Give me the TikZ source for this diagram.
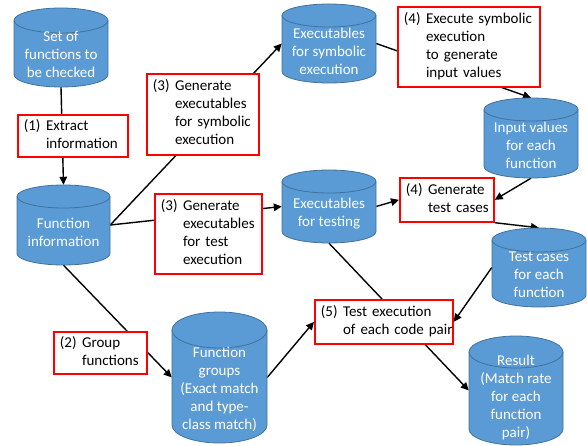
\documentclass[tikz,border=0pt]{standalone}
\usepackage{fontspec}
\setmainfont{Carlito}
\usetikzlibrary{arrows.meta}
\pgfdeclarelayer{bg}
\pgfsetlayers{bg,main}
\definecolor{cylblue}{HTML}{5B9BD5}
\definecolor{cylborder}{HTML}{41719C}
\definecolor{boxred}{HTML}{FF0000}
\tikzset{
  cylbody/.style={fill=cylblue, draw=cylborder, line width=0.8pt},
  cylline/.style={draw=cylborder, line width=0.8pt},
  cylbox/.style={draw=none, rectangle, inner sep=0pt},
  cyltext/.style={text=white, align=center, inner sep=0pt, font=\fontsize{15}{18}\selectfont},
  stepbox/.style={draw=boxred, line width=1.7pt, fill=white, rectangle, anchor=north west,
    inner xsep=6pt, inner ysep=0pt, align=left, font=\fontsize{15}{18}\selectfont},
  conn/.style={draw=black, line width=1.4pt, -{Triangle[length=8pt,width=7.5pt]}},
}
% #1 name, #2 left, #3 top, #4 right, #5 bottom, #6 cap radius, #7 text centre y, #8 text
\newcommand\cylnode[8]{%
  \pgfmathsetmacro\cxa{(#2+#4)/2}%
  \pgfmathsetmacro\rxa{(#4-#2)/2}%
  \pgfmathsetmacro\cya{(#3+#5)/2}%
  \pgfmathsetmacro\wa{#4-#2}%
  \pgfmathsetmacro\ha{#5-#3}%
  \path[cylbody] (#2,#3+#6) -- (#2,#5-#6)
     arc[start angle=180,end angle=360,x radius=\rxa pt,y radius=#6pt]
     -- (#4,#3+#6)
     arc[start angle=0,end angle=180,x radius=\rxa pt,y radius=#6pt] -- cycle;
  \draw[cylline] (#2,#3+#6) arc[start angle=180,end angle=360,x radius=\rxa pt,y radius=#6pt];
  \node[cylbox, minimum width=\wa pt, minimum height=\ha pt] (#1) at (\cxa,\cya) {};
  \node[cyltext] (#1-t) at (\cxa,#7) {#8};
}
\newcommand\steptext[2]{\begin{tabular}{@{}l@{\hspace{5.5pt}}l@{}}#1&#2\end{tabular}}
\begin{document}
\begin{tikzpicture}[x=1pt,y=-1pt]
\useasboundingbox (0,0) rectangle (587,446);

% cylinders
\cylnode{cset}{14}{8}{108}{87}{12.5}{54}{Set of\\functions to\\be checked}
\cylnode{cfi}{17}{185}{110}{265}{11.5}{232}{Function\\information}
\cylnode{ces}{282}{4}{376}{83}{11.5}{51}{Executables\\for symbolic\\execution}
\cylnode{civ}{484}{98}{578}{178}{11.5}{145}{Input values\\for each\\function}
\cylnode{cet}{282}{170}{376}{243}{11.5}{214}{Executables\\for testing}
\cylnode{ctc}{492}{228}{586}{307}{12}{275}{Test cases\\for each\\function}
\cylnode{cfg}{172}{312}{267}{443}{18}{389}{Function\\groups\\(Exact match\\and type-\\class match)}
\cylnode{cres}{469}{336}{563}{445}{16}{398}{Result\\(Match rate\\for each\\function\\pair)}

% step boxes
\node[stepbox, minimum width=110pt, minimum height=42pt, text width=98pt] (b1) at (17,114)
  {\steptext{(1)}{Extract\\&information}};
\node[stepbox, minimum width=112pt, minimum height=81pt, text width=100pt] (b3s) at (146,73)
  {\steptext{(3)}{Generate\\&executables\\&for symbolic\\&execution}};
\node[stepbox, minimum width=142pt, minimum height=80pt, text width=130pt] (b4s) at (397,6)
  {\steptext{(4)}{Execute symbolic\\&execution\\&to generate\\&input values}};
\node[stepbox, minimum width=107pt, minimum height=80pt, text width=95pt] (b3t) at (154,193)
  {\steptext{(3)}{Generate\\&executables\\&for test\\&execution}};
\node[stepbox, minimum width=94pt, minimum height=44pt, text width=82pt] (b4t) at (399,177)
  {\steptext{(4)}{Generate\\&test cases}};
\node[stepbox, minimum width=93pt, minimum height=42pt, text width=81pt] (b2) at (53,331)
  {\steptext{(2)}{Group\\&functions}};
\node[stepbox, minimum width=138pt, minimum height=44pt, text width=126pt] (b5) at (314,299)
  {\steptext{(5)}{Test execution\\&of each code pair}};

% connectors (behind the boxes)
\begin{pgfonlayer}{bg}
\draw[conn] (cset.south) -- (cfi.north);
\draw[conn] (cfi.east) -- (ces.west);
\draw[conn] (cfi.east) -- (cet.west);
\draw[conn] (ces.east) -- (civ.north);
\draw[conn] (cet.east) -- (b4t.west);
\draw[conn] (civ.south) -- (b4t.east);
\draw[conn] (b4t.south east) -- (ctc.north);
\draw[conn] (cet.south) -- (cres.west);
\draw[conn] (ctc.west) -- (b5.east);
\draw[conn] (cfi.south) -- (cfg.west);
\draw[conn] (cfg.east) -- (b5.west);
\end{pgfonlayer}
\end{tikzpicture}
\end{document}
